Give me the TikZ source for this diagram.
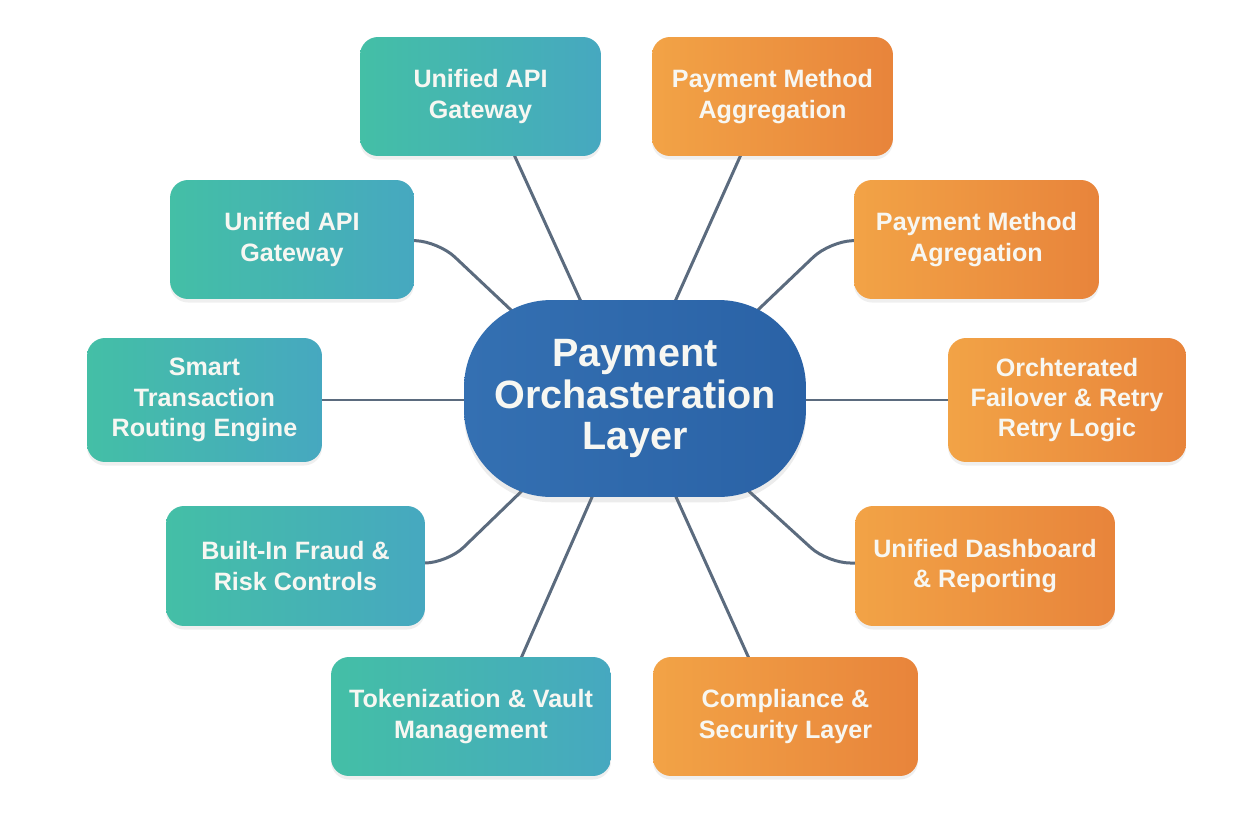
\documentclass[tikz,border=0pt]{standalone}
\usepackage{fontspec}
\setmainfont{Liberation Sans}
\usetikzlibrary{calc,backgrounds,shadows}
\pgfdeclarelayer{canvas}
\pgfsetlayers{canvas,background,main}
\definecolor{tealL}{HTML}{44BFA6}
\definecolor{tealR}{HTML}{46A8C0}
\definecolor{orgL}{HTML}{F2A346}
\definecolor{orgR}{HTML}{E8843B}
\definecolor{hubL}{HTML}{3470B2}
\definecolor{hubR}{HTML}{2A62A6}
\definecolor{conn}{HTML}{5B6B7E}
\definecolor{txt}{HTML}{F7F7F2}
\tikzset{
  box/.style={rectangle, rounded corners=0.36cm, inner sep=0pt, align=center,
    text=txt, font=\bfseries\fontsize{14.3}{17.2}\selectfont,
    drop shadow={opacity=0.12, shadow xshift=0pt, shadow yshift=-2pt}},
  tealbox/.style={box, left color=tealL, right color=tealR},
  orgbox/.style={box, left color=orgL, right color=orgR},
  hub/.style={rectangle, rounded corners=1.75cm, inner sep=0pt, align=center,
    text=txt, font=\bfseries\fontsize{22.5}{23.5}\selectfont,
    left color=hubL, right color=hubR,
    drop shadow={opacity=0.15, shadow xshift=0pt, shadow yshift=-3pt},
    minimum width=6.84cm, minimum height=3.94cm},
  link/.style={draw=conn, line width=1.7pt, line cap=round, rounded corners=0.45cm}
}
\begin{document}
\begin{tikzpicture}[x=0.02cm, y=-0.02cm]
\begin{pgfonlayer}{canvas}
\fill[white] (0,0) rectangle (1248,832);
\end{pgfonlayer}
\useasboundingbox (0,0) rectangle (1248,832);
\node[hub] (c) at (635,398.5) {\raisebox{-3pt}{\parbox{6cm}{\centering Payment\\Orchasteration\\Layer}}};
\node[tealbox, minimum width=4.82cm, minimum height=2.38cm] (L1) at (480.5,96.5) {Unified API\\Gateway};
\node[tealbox, minimum width=4.88cm, minimum height=2.38cm] (L2) at (292,239.5) {Uniffed API\\Gateway};
\node[tealbox, minimum width=4.70cm, minimum height=2.48cm] (L3) at (204.5,400) {Smart\\Transaction\\Routing Engine};
\node[tealbox, minimum width=5.18cm, minimum height=2.40cm] (L4) at (295.5,566) {Built-In Fraud \&\\Risk Controls};
\node[tealbox, minimum width=5.60cm, minimum height=2.38cm] (L5) at (471,716.5) {Tokenization \& Vault\\Management};
\node[orgbox, minimum width=4.82cm, minimum height=2.38cm] (R1) at (772.5,96.5) {Payment Method\\Aggregation};
\node[orgbox, minimum width=4.90cm, minimum height=2.38cm] (R2) at (976.5,239.5) {Payment Method\\Agregation};
\node[orgbox, minimum width=4.76cm, minimum height=2.48cm] (R3) at (1067,400) {Orchterated\\Failover \& Retry\\Retry Logic};
\node[orgbox, minimum width=5.20cm, minimum height=2.40cm] (R4) at (985,566) {Unified Dashboard\\\& Reporting};
\node[orgbox, minimum width=5.30cm, minimum height=2.38cm] (R5) at (785.5,716.5) {Compliance \&\\Security Layer};
\begin{scope}[on background layer]
  \draw[link] ($(L1.south)+(32.5,-4)$) -- ($(c.center)+(-50,-88)$);
  \draw[link] ($(R1.south)+(-30.5,-4)$) -- ($(c.center)+(36,-88)$);
  \draw[link] ($(L2.east)+(-4,1)$) -- ($(L2.east)+(24,2)$) -- ($(c.center)+(-115,-80)$);
  \draw[link] ($(R2.west)+(4,1)$) -- ($(R2.west)+(-24,2)$) -- ($(c.center)+(115,-81)$);
  \draw[link] (L3.east) -- ($(L3.east -| c.west)+(6,0)$);
  \draw[link] ($(R3.west -| c.east)+(-6,0)$) -- (R3.west);
  \draw[link] ($(L4.east)+(-4,-3)$) -- ($(L4.east)+(22,-3)$) -- ($(c.center)+(-107,86.5)$);
  \draw[link] ($(R4.west)+(4,-3)$) -- ($(R4.west)+(-27,-3)$) -- ($(c.center)+(106,85.5)$);
  \draw[link] ($(L5.north)+(49,4)$) -- ($(c.center)+(-39,89.5)$);
  \draw[link] ($(R5.north)+(-35.5,4)$) -- ($(c.center)+(37,89.5)$);
\end{scope}
\end{tikzpicture}
\end{document}
